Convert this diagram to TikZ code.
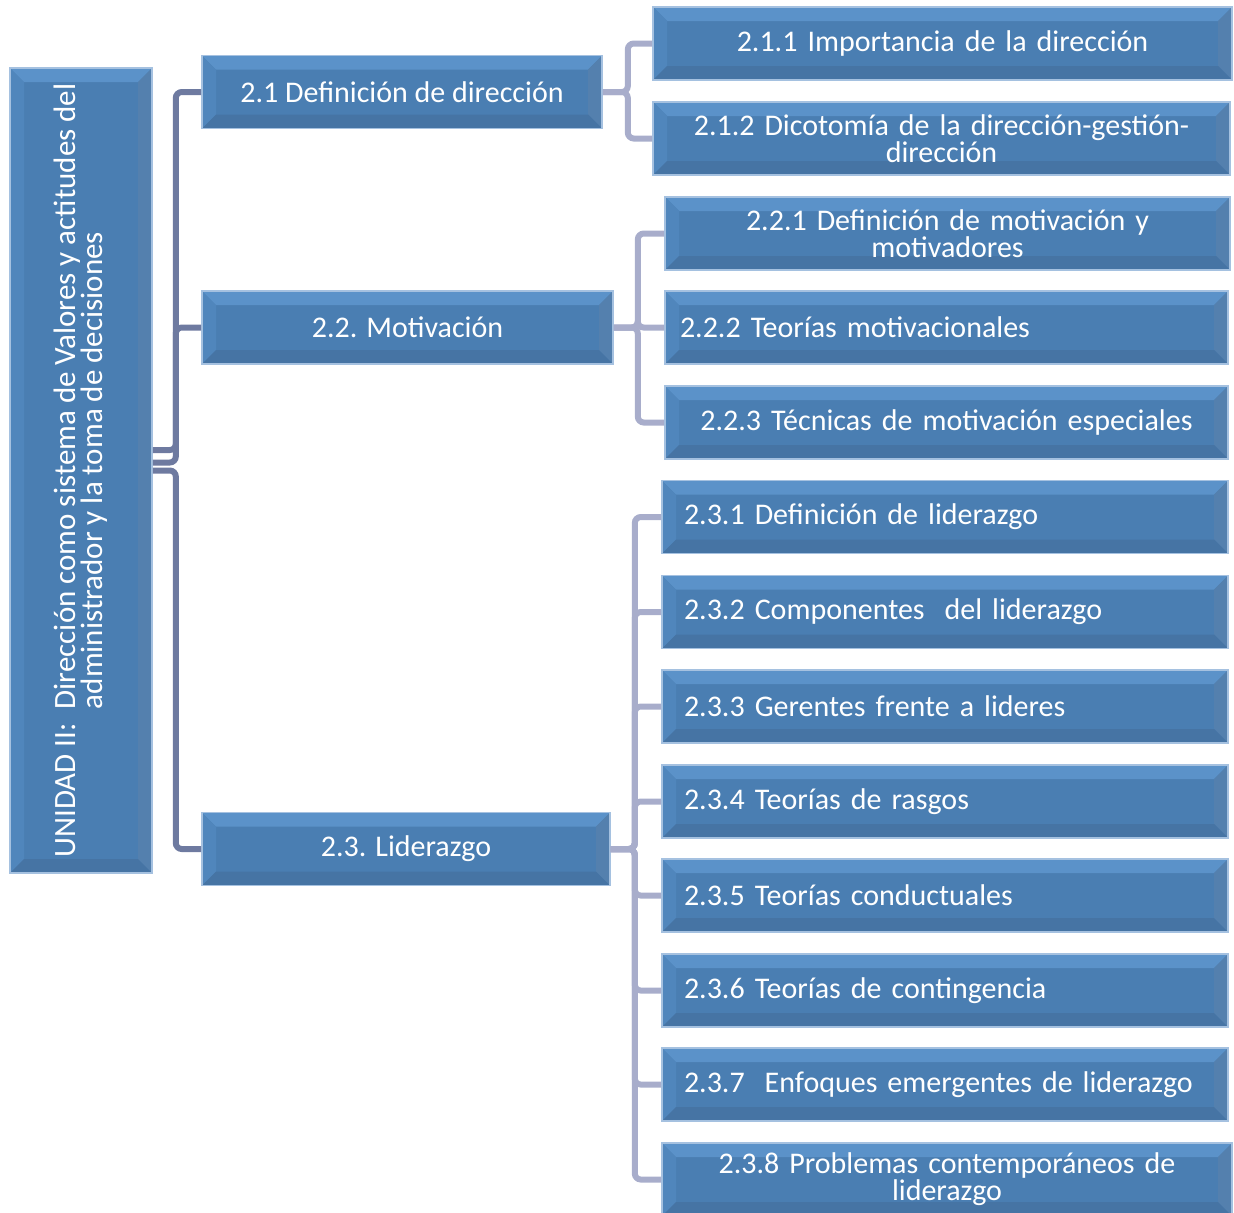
\documentclass[tikz,border=0pt]{standalone}
\usepackage{fontspec}
\setmainfont{Carlito}
\usetikzlibrary{calc}

\definecolor{faceblue}{RGB}{74,126,178}
\definecolor{topblue}{RGB}{91,146,201}
\definecolor{leftblue}{RGB}{80,134,188}
\definecolor{rightblue}{RGB}{84,128,174}
\definecolor{botblue}{RGB}{70,116,164}
\definecolor{rimblue}{RGB}{165,193,224}
\definecolor{rootline}{RGB}{110,122,160}
\definecolor{subline}{RGB}{168,173,203}
\newcommand\bevw{7pt}

\begin{document}
\begin{tikzpicture}[x=0.5pt,y=-0.5pt,
  box/.style={draw=rimblue,line width=0.8pt,fill=faceblue,text=white,inner ysep=2pt,
    font=\fontsize{15}{13.5}\selectfont,
    path picture={
      \fill[topblue] (path picture bounding box.north west) -- (path picture bounding box.north east)
        -- ([shift={(-\bevw,-\bevw)}]path picture bounding box.north east)
        -- ([shift={(\bevw,-\bevw)}]path picture bounding box.north west) -- cycle;
      \fill[leftblue] (path picture bounding box.north west) -- (path picture bounding box.south west)
        -- ([shift={(\bevw,\bevw)}]path picture bounding box.south west)
        -- ([shift={(\bevw,-\bevw)}]path picture bounding box.north west) -- cycle;
      \fill[rightblue] (path picture bounding box.north east) -- (path picture bounding box.south east)
        -- ([shift={(-\bevw,\bevw)}]path picture bounding box.south east)
        -- ([shift={(-\bevw,-\bevw)}]path picture bounding box.north east) -- cycle;
      \fill[botblue] (path picture bounding box.south west) -- (path picture bounding box.south east)
        -- ([shift={(-\bevw,\bevw)}]path picture bounding box.south east)
        -- ([shift={(\bevw,\bevw)}]path picture bounding box.south west) -- cycle;
    }},
  lvlone/.style={box,minimum height=36.5pt,align=center},
  mid/.style={box,minimum height=36.5pt,minimum width=#1,inner xsep=4pt,align=center},
  flush/.style={box,minimum height=36.5pt,minimum width=283pt,inner xsep=11pt,text width=261pt,align=left},
  rootlink/.style={draw=rootline,line width=3pt,rounded corners=3pt},
  sublink/.style={draw=subline,line width=3pt,rounded corners=3pt},
  elbow/.style={to path={-- ++(#1,0) |- (\tikztotarget)}}]
\useasboundingbox (0,0) rectangle (1234,1212);

% unidad
\node[box,minimum width=71pt,minimum height=402.5pt](U2) at (81,470.5) {};
\node[rotate=90,text=white,align=center,font=\fontsize{15.5}{13.5}\selectfont](U2txt) at (U2.center)
  {UNIDAD II:\ \ Dirección como sistema de Valores y actitudes del\\administrador y la toma de decisiones};

% temas
\node[lvlone,minimum width=200pt](D21) at (402,92) {2.1 Definición de dirección};
\node[lvlone,minimum width=205.5pt](M22) at (407.5,327.5) {2.2. Motivación};
\node[lvlone,minimum width=204pt](L23) at (406,849) {2.3. Liderazgo};

% subtemas 2.1
\node[mid=289.5pt,text width=281.5pt](D211) at (942.5,43.5) {2.1.1 Importancia de la dirección};
\node[mid=288.5pt,text width=280.5pt](D212) at (941.5,138.5) {2.1.2 Dicotomía de la dirección-gestión-\\dirección};

% subtemas 2.2
\node[mid=282.5pt,text width=274.5pt](M221) at (947.5,233.5) {2.2.1 Definición de motivación y\\motivadores};
\node[box,minimum height=36.5pt,minimum width=281.5pt,inner xsep=7.5pt,text width=266.5pt,align=left](M222) at (946.5,327.5) {2.2.2 Teorías motivacionales};
\node[mid=281.5pt,text width=273.5pt](M223) at (946.5,422.5) {2.2.3 Técnicas de motivación especiales};

% subtemas 2.3
\node[flush](L231) at (945,517) {2.3.1 Definición de liderazgo};
\node[flush](L232) at (945,612) {2.3.2 Componentes\ \ del liderazgo};
\node[flush](L233) at (945,706.5) {2.3.3 Gerentes frente a lideres};
\node[flush](L234) at (945,801.5) {2.3.4 Teorías de rasgos};
\node[flush](L235) at (945,895.5) {2.3.5 Teorías conductuales};
\node[flush](L236) at (945,990.5) {2.3.6 Teorías de contingencia};
\node[flush](L237) at (945,1084.5) {2.3.7\ \ Enfoques emergentes de liderazgo};
\node[mid=285pt,text width=277pt](L238) at (947,1179.5) {2.3.8 Problemas contemporáneos de\\liderazgo};

\path
([yshift=10.25pt]U2.east) edge[rootlink,elbow=23] (D21.west)
([yshift=4pt]U2.east) edge[rootlink,elbow=23] (M22.west)
(U2.east) edge[rootlink,elbow=23] (L23.west);

\path
(D21.east) edge[sublink,elbow=25] (D211.west)
(D21.east) edge[sublink,elbow=25] (D212.west)
(M22.east) edge[sublink,elbow=24] (M221.west)
(M22.east) edge[sublink,elbow=24] (M222.west)
(M22.east) edge[sublink,elbow=24] (M223.west);

\foreach \c in {L231,L232,L233,L234,L235,L236,L237,L238}
  \path (L23.east) edge[sublink,elbow=24] (\c.west);

\end{tikzpicture}
\end{document}
